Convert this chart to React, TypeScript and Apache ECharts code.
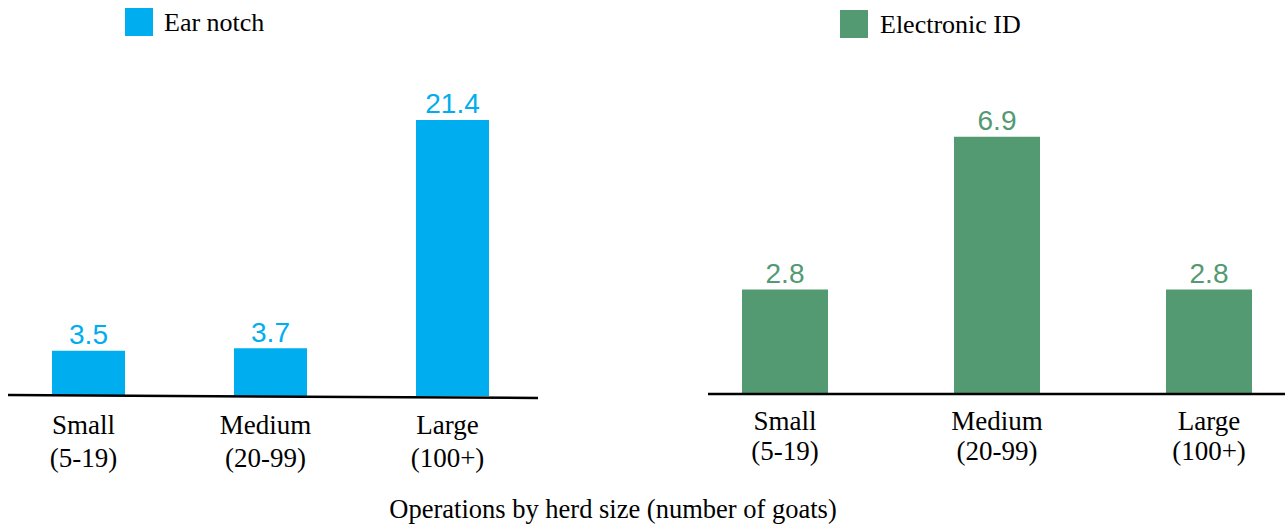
import React, { useEffect, useRef } from "react";
import * as echarts from "echarts";

const categories = ["Small", "Medium", "Large"];
const herdRanges = ["(5-19)", "(20-99)", "(100+)"];
const earNotch = [3.5, 3.7, 21.4];
const electronicId = [2.8, 6.9, 2.8];
const seriesNames = ["Ear notch", "Electronic ID"];
const axisTitle = "Operations by herd size (number of goats)";

const BLUE = "#00AEEF";
const GREEN = "#539A72";
const SERIF = "'Liberation Serif', 'Times New Roman', serif";
const SANS = "'Liberation Sans', Arial, sans-serif";

export default function App() {
  const ref = useRef<HTMLDivElement>(null);
  useEffect(() => {
    if (!ref.current) return;
    const chart = echarts.init(ref.current, null, { renderer: "svg" });
    const catLabel = (v: string) => {
      const i = categories.indexOf(v);
      return v + "\n" + herdRanges[i];
    };
    const legendText = { fontFamily: SERIF, fontSize: 26, color: "#000" };
    chart.setOption({
      animation: false,
      backgroundColor: "#ffffff",
      legend: [
        {
          data: [seriesNames[0]],
          left: 125,
          top: 8,
          padding: 0,
          icon: "rect",
          itemWidth: 28,
          itemHeight: 28,
          itemGap: 0,
          selectedMode: false,
          textStyle: { ...legendText, padding: [2, 0, 0, 6] },
        },
        {
          data: [seriesNames[1]],
          left: 840,
          top: 10,
          padding: 0,
          icon: "rect",
          itemWidth: 28,
          itemHeight: 28,
          itemGap: 0,
          selectedMode: false,
          textStyle: { ...legendText, padding: [2, 0, 0, 7] },
        },
      ],
      grid: [
        { left: 88.5, width: 364, top: 73.5, height: 322.5 },
        { left: 785, width: 424, top: 95.6, height: 298.4 },
      ],
      xAxis: [
        {
          type: "category",
          gridIndex: 0,
          data: categories,
          boundaryGap: false,
          axisLine: { show: false },
          axisTick: { show: false },
          axisLabel: {
            formatter: catLabel,
            fontFamily: SERIF,
            fontSize: 27,
            color: "#000",
            lineHeight: 33,
            margin: 12,
            padding: [0, 10, 0, 0],
          },
        },
        {
          type: "category",
          gridIndex: 1,
          data: categories,
          boundaryGap: false,
          axisLine: { show: false },
          axisTick: { show: false },
          axisLabel: {
            formatter: catLabel,
            fontFamily: SERIF,
            fontSize: 27,
            color: "#000",
            lineHeight: 30,
            margin: 12,
          },
        },
      ],
      yAxis: [
        { type: "value", gridIndex: 0, min: 0, max: 25, show: false },
        { type: "value", gridIndex: 1, min: 0, max: 8, show: false },
      ],
      series: [
        {
          name: seriesNames[0],
          type: "bar",
          xAxisIndex: 0,
          yAxisIndex: 0,
          data: earNotch,
          barWidth: 73,
          itemStyle: { color: BLUE },
          label: {
            show: true,
            position: "top",
            distance: 2,
            fontFamily: SANS,
            fontSize: 28,
            color: BLUE,
            formatter: (p: any) => p.value.toFixed(1),
          },
        },
        {
          name: seriesNames[1],
          type: "bar",
          xAxisIndex: 1,
          yAxisIndex: 1,
          data: electronicId,
          barWidth: 86,
          itemStyle: { color: GREEN },
          label: {
            show: true,
            position: "top",
            distance: 2,
            fontFamily: SANS,
            fontSize: 28,
            color: GREEN,
            formatter: (p: any) => p.value.toFixed(1),
          },
        },
      ],
      graphic: [
        {
          type: "line",
          z: 100,
          shape: { x1: 8, y1: 395, x2: 538, y2: 398 },
          style: { stroke: "#000", lineWidth: 2.5 },
        },
        {
          type: "line",
          z: 100,
          shape: { x1: 708, y1: 394, x2: 1285, y2: 394 },
          style: { stroke: "#000", lineWidth: 2.5 },
        },
        {
          type: "text",
          x: 613,
          y: 509,
          style: {
            text: axisTitle,
            fontFamily: SERIF,
            fontSize: 26.5,
            fill: "#000",
            align: "center",
            verticalAlign: "middle",
          },
        },
      ],
    });
    return () => chart.dispose();
  }, []);
  return (
    <div
      ref={ref}
      style={{ position: "fixed", left: 0, top: 0, width: 1285, height: 525 }}
    />
  );
}
